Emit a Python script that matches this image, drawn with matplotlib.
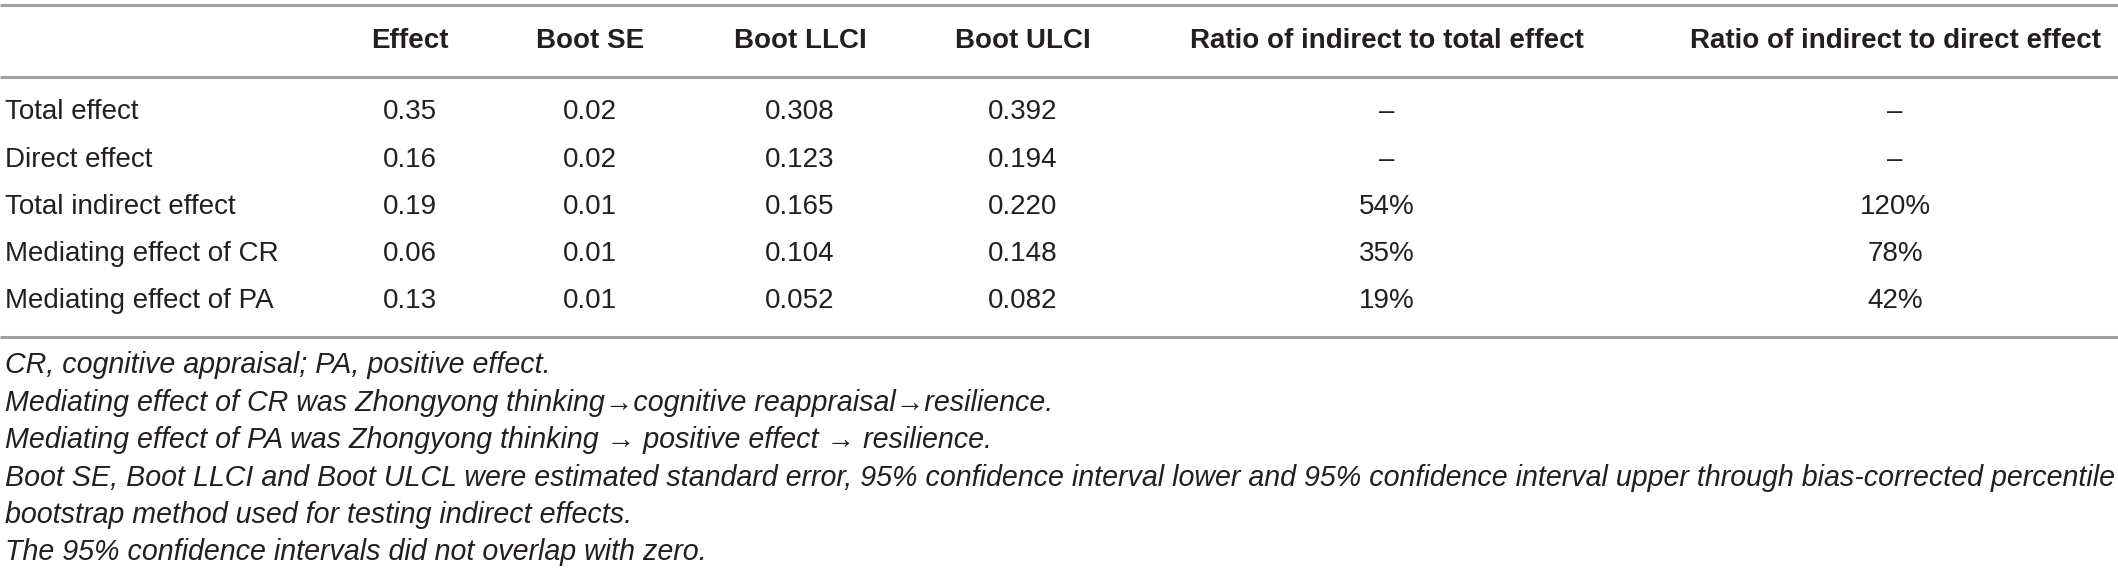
import matplotlib
matplotlib.use("Agg")
import matplotlib.pyplot as plt

# ---- data ----
row_labels = ["Total effect", "Direct effect", "Total indirect effect",
              "Mediating effect of CR", "Mediating effect of PA"]
col_headers = ["Effect", "Boot SE", "Boot LLCI", "Boot ULCI",
               "Ratio of indirect to total effect", "Ratio of indirect to direct effect"]
effect = [0.35, 0.16, 0.19, 0.06, 0.13]
boot_se = [0.02, 0.02, 0.01, 0.01, 0.01]
boot_llci = [0.308, 0.123, 0.165, 0.104, 0.052]
boot_ulci = [0.392, 0.194, 0.220, 0.148, 0.082]
ratio_total = ["–", "–", "54%", "35%", "19%"]
ratio_direct = ["–", "–", "120%", "78%", "42%"]
footnotes = [
    "CR, cognitive appraisal; PA, positive effect.",
    "Mediating effect of CR was Zhongyong thinking\u2192cognitive reappraisal\u2192resilience.",
    "Mediating effect of PA was Zhongyong thinking \u2192 positive effect \u2192 resilience.",
    "Boot SE, Boot LLCI and Boot ULCL were estimated standard error, 95% confidence interval lower and 95% confidence interval upper through bias-corrected percentile",
    "bootstrap method used for testing indirect effects.",
    "The 95% confidence intervals did not overlap with zero.",
]

W, H = 2118, 573
fig = plt.figure(figsize=(W / 100, H / 100), dpi=100)
ax = fig.add_axes([0, 0, 1, 1])
ax.set_xlim(0, W)
ax.set_ylim(H, 0)
ax.axis("off")

fam = ["Liberation Sans", "DejaVu Sans"]
txt_color = "#231f20"
line_color = "#a0a0a0"
fs = 20
fs_foot = 20.6

col_x = [410, 590, 800, 1023, 1387, 1895]
header_y = 41
row_y = [112, 160, 207, 254, 301]
foot_y = [365, 403, 440, 478, 515, 552]

ax.hlines([5, 77, 337], 0, W, colors=line_color, linewidth=2.2)

for x, h in zip(col_x, col_headers):
    ax.text(x, header_y, h, ha="center", va="center", fontsize=fs,
            fontweight="bold", family=fam, color=txt_color)

columns = [
    [f"{v:.2f}" for v in effect],
    [f"{v:.2f}" for v in boot_se],
    [f"{v:.3f}" for v in boot_llci],
    [f"{v:.3f}" for v in boot_ulci],
    ratio_total,
    ratio_direct,
]

for i, (lab, y) in enumerate(zip(row_labels, row_y)):
    ax.text(5, y, lab, ha="left", va="center", fontsize=fs, family=fam, color=txt_color)
    for x, col in zip(col_x, columns):
        ax.text(x, y, col[i], ha="center", va="center", fontsize=fs, family=fam, color=txt_color)

for y, t in zip(foot_y, footnotes):
    ax.text(5, y, t, ha="left", va="center", fontsize=fs_foot, style="italic",
            family=fam, color=txt_color)

fig.savefig("out.png", dpi=100, facecolor="white")
